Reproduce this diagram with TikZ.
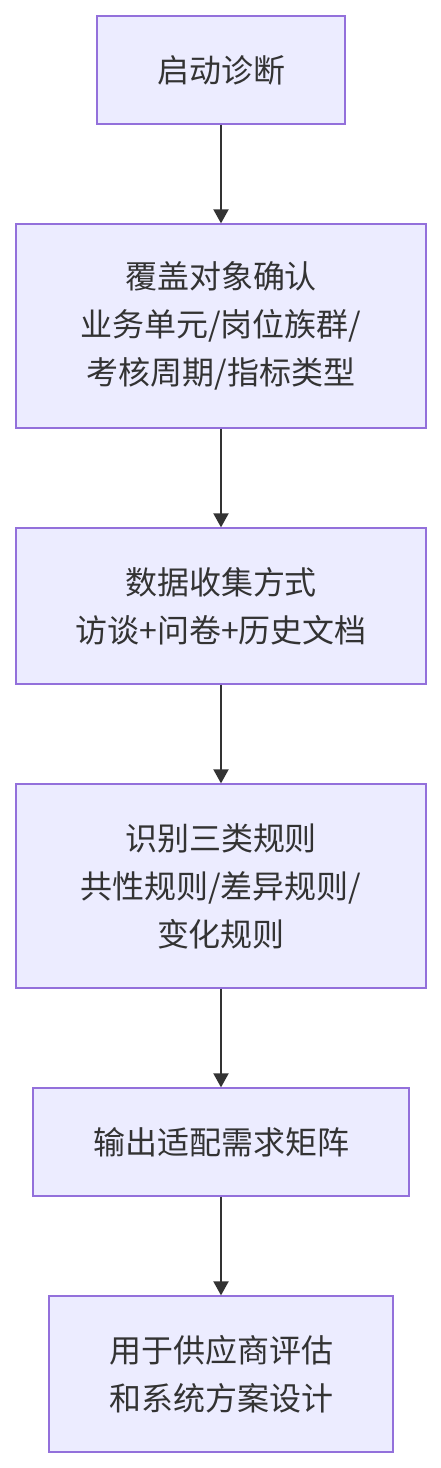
\documentclass[tikz,border=0pt]{standalone}
\usepackage{fontspec}
\setmainfont{Noto Sans CJK SC}
\usetikzlibrary{arrows.meta, positioning}

\definecolor{boxfill}{HTML}{ECECFF}
\definecolor{boxline}{HTML}{9370DB}
\definecolor{txt}{HTML}{333333}

\tikzset{
  stepbox/.style={draw=boxline, fill=boxfill, line width=1.3pt, text=txt,
    align=center, font=\fontsize{32}{48}\selectfont, inner sep=0pt},
  flow/.style={-{Triangle[length=14pt, width=15pt]}, line width=2pt, draw=txt}
}

\begin{document}
\begin{tikzpicture}[x=1pt, y=-1pt]
      \useasboundingbox (0,0) rectangle (441,1468);
      % steps
      \node[stepbox, minimum width=248pt, minimum height=108pt] (start) at (221,70) {启动诊断};
      \node[stepbox, minimum width=410pt, minimum height=204pt] (scope) at (221,326) {覆盖对象确认\\业务单元/岗位族群/\\考核周期/指标类型};
      \node[stepbox, minimum width=410pt, minimum height=156pt] (data) at (221,606) {数据收集方式\\访谈+问卷+历史文档};
      \node[stepbox, minimum width=410pt, minimum height=204pt] (rules) at (221,886) {识别三类规则\\共性规则/差异规则/\\变化规则};
      \node[stepbox, minimum width=376pt, minimum height=108pt] (matrix) at (221,1142) {输出适配需求矩阵};
      \node[stepbox, minimum width=344pt, minimum height=156pt] (use) at (221,1374) {用于供应商评估\\和系统方案设计};
      % arrows
      \draw[flow] (start) -- (scope);
      \draw[flow] (scope) -- (data);
      \draw[flow] (data) -- (rules);
      \draw[flow] (rules) -- (matrix);
      \draw[flow] (matrix) -- (use);
    \end{tikzpicture}
\end{document}
